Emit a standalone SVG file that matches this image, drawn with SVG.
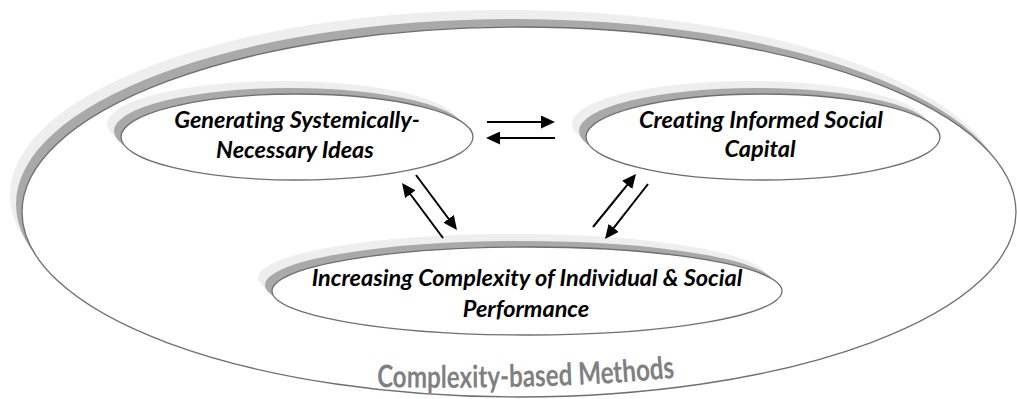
<svg xmlns="http://www.w3.org/2000/svg" width="1017" height="399" viewBox="0 0 1017 399">
  <style>
    .shadow-light { fill: #eeeeee; stroke: none; }
    .shadow-dark { fill: #a9a9a9; stroke: none; }
    .shape { fill: #ffffff; stroke: #6f6f6f; stroke-width: 1.3; }
    .label { font-family: Lato, "Liberation Sans", sans-serif; font-weight: bold; font-style: italic; font-size: 23.5px; fill: #000000; text-anchor: middle; font-variant-ligatures: none; }
    .caption { font-family: Lato, "Liberation Sans", sans-serif; font-weight: bold; font-size: 31px; fill: #808080; font-variant-ligatures: none; }
    .link { stroke: #000000; stroke-width: 2; fill: none; marker-end: url(#head); }
  </style>
  <defs>
    <marker id="head" markerUnits="userSpaceOnUse" markerWidth="15" markerHeight="13" refX="4" refY="6.5" orient="auto">
      <path d="M0,0 L14,6.5 L0,13 z" fill="#000000"/>
    </marker>
    <path id="captionPath" d="M 377 387 C 480 389, 600 387, 690 376"/>
  </defs>

  <rect width="1017" height="399" fill="#ffffff"/>

  <!-- outer boundary: complexity-based methods -->
  <g id="methods">
    <ellipse class="shadow-light" cx="507" cy="195" rx="497" ry="185"/>
    <ellipse class="shadow-dark" cx="513" cy="204" rx="497" ry="185"/>
    <ellipse class="shape" cx="519" cy="212" rx="497" ry="185"/>
    <text class="caption"><textPath href="#captionPath" textLength="298" lengthAdjust="spacingAndGlyphs">Complexity-based Methods</textPath></text>
  </g>

  <g id="ideas">
    <ellipse class="shadow-light" cx="283" cy="124" rx="176" ry="43"/>
    <ellipse class="shadow-dark" cx="290" cy="131" rx="176" ry="43"/>
    <ellipse class="shape" cx="297" cy="137" rx="176" ry="43"/>
    <text class="label" x="297" y="128">Generating Systemically-</text>
    <text class="label" x="295" y="158">Necessary Ideas</text>
  </g>

  <g id="capital">
    <ellipse class="shadow-light" cx="749" cy="124" rx="177" ry="43"/>
    <ellipse class="shadow-dark" cx="756" cy="131" rx="177" ry="43"/>
    <ellipse class="shape" cx="763" cy="137" rx="177" ry="43"/>
    <text class="label" x="761" y="128">Creating Informed Social</text>
    <text class="label" x="760" y="157">Capital</text>
  </g>

  <g id="performance">
    <ellipse class="shadow-light" cx="513" cy="278" rx="255" ry="44"/>
    <ellipse class="shadow-dark" cx="520" cy="285" rx="255" ry="44"/>
    <ellipse class="shape" cx="527" cy="291" rx="255" ry="44"/>
    <text class="label" x="527" y="286">Increasing Complexity of Individual &amp; Social</text>
    <text class="label" x="526" y="317">Performance</text>
  </g>

  <g id="connectors">
    <line class="link" x1="487" y1="122" x2="545" y2="122"/>
    <line class="link" x1="555" y1="138" x2="496" y2="138"/>
    <line class="link" x1="443" y1="238" x2="408" y2="191"/>
    <line class="link" x1="416" y1="175" x2="451" y2="222"/>
    <line class="link" x1="593" y1="227" x2="629.7" y2="181.8"/>
    <line class="link" x1="648" y1="184" x2="611.2" y2="231.1"/>
  </g>
</svg>
